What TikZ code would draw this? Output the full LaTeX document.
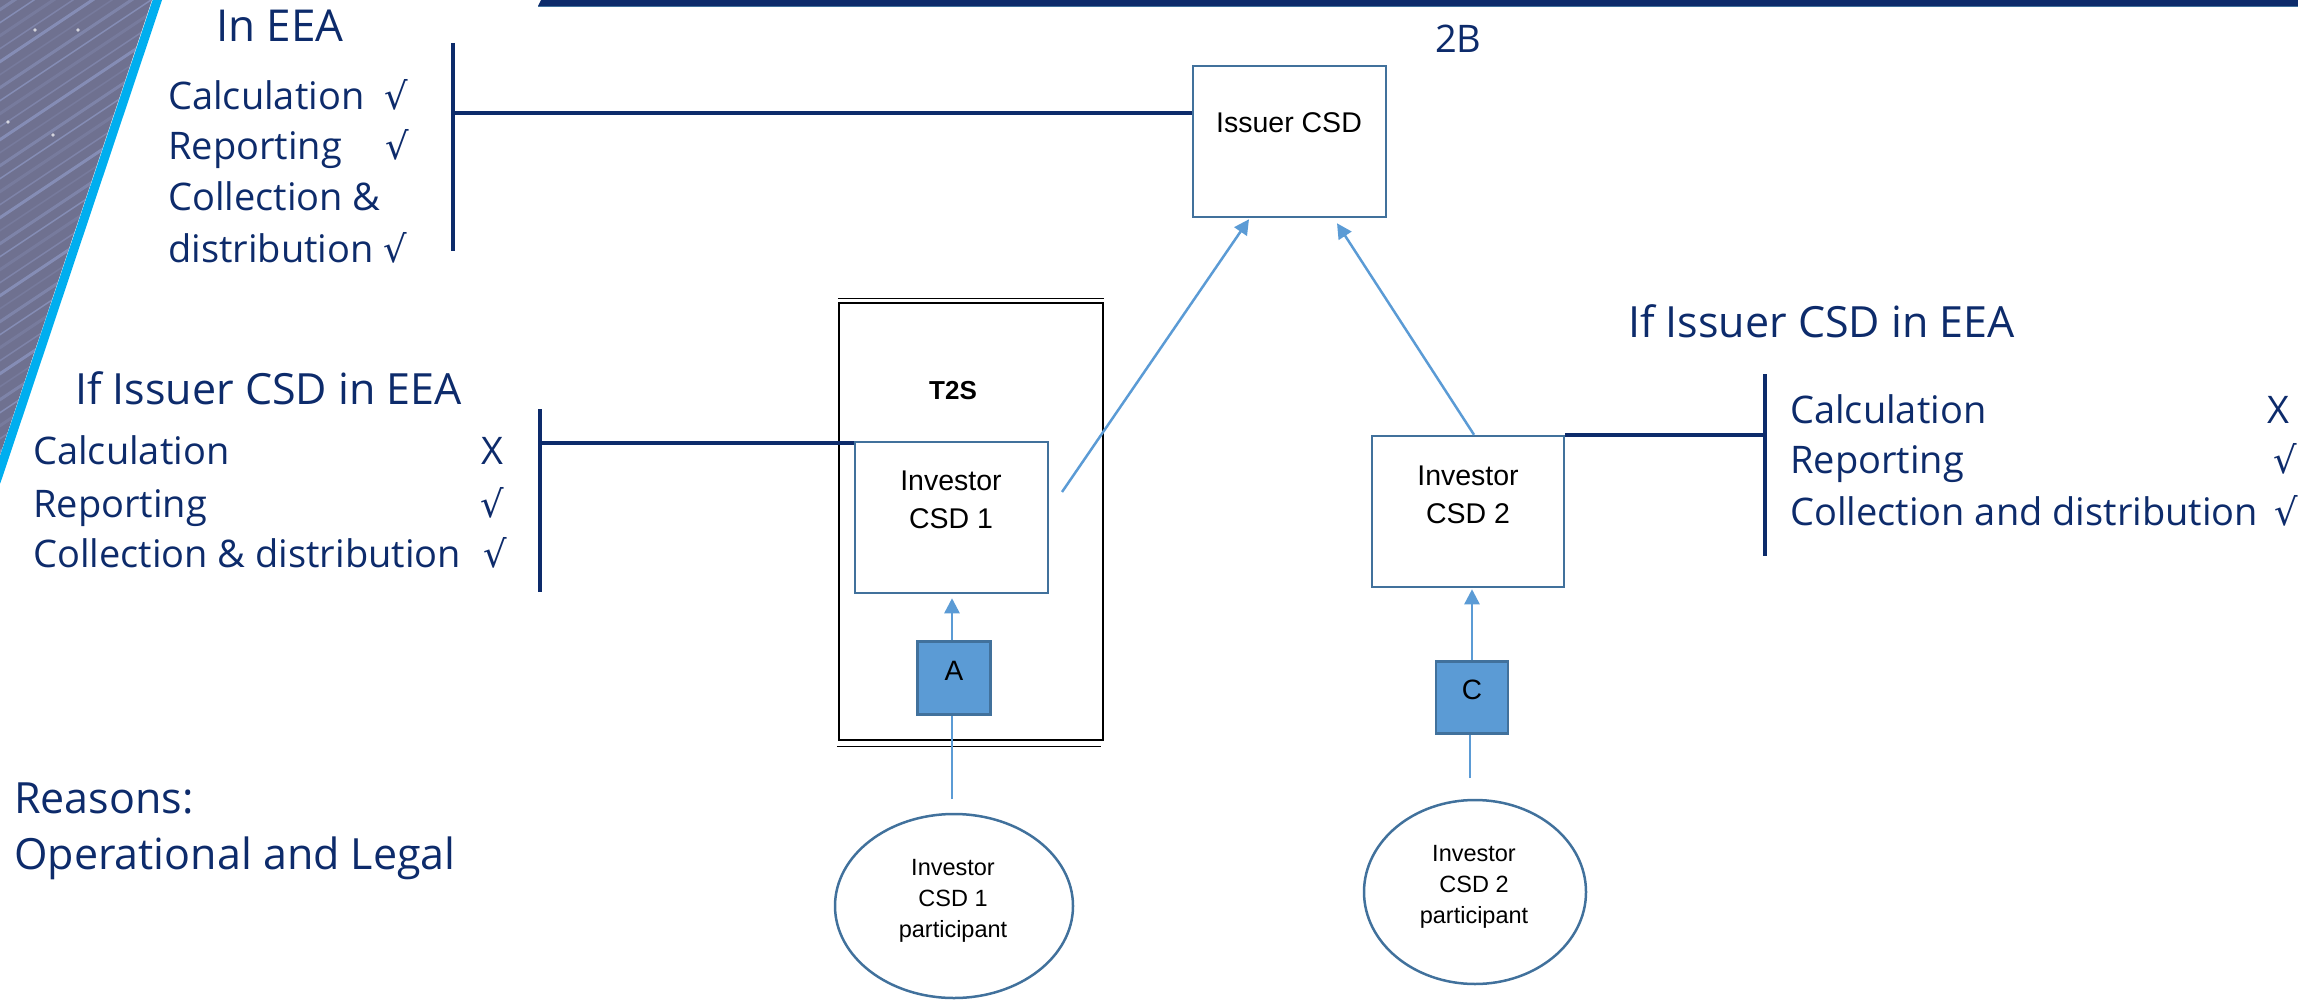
\documentclass[tikz,border=0pt]{standalone}
\usepackage{fontspec}
\setmainfont{Open Sans}
\newfontfamily\arialf{Liberation Sans}
\newfontfamily\symf{DejaVu Sans}
\usetikzlibrary{arrows.meta,shapes.geometric,calc}
\definecolor{navy}{HTML}{0D2B6B}
\definecolor{boxb}{HTML}{41719C}
\definecolor{arr}{HTML}{5B9BD5}
\definecolor{cyanst}{HTML}{00AEEF}
\definecolor{texbase}{HTML}{6F7190}
\definecolor{texlight}{HTML}{98A4D4}
\tikzset{
  navytxt/.style={text=navy, inner sep=0pt, anchor=base west},
  hdr/.style={navytxt, font=\fontsize{43}{50}\selectfont},
  itm/.style={navytxt, font=\fontsize{38}{46}\selectfont},
  chk/.style={navytxt, font=\symf\fontsize{37}{42}\selectfont},
  navyline/.style={draw=navy, line width=3.5pt},
  arrline/.style={draw=arr, line width=2.5pt},
  arrowline/.style={arrline, -{Triangle[length=15pt,width=15pt]}},
  csdbox/.style={draw=boxb, line width=2.5pt, fill=white, minimum width=193pt, minimum height=151pt, inner sep=0pt},
  sqbox/.style={draw=boxb, line width=2.5pt, fill=arr, minimum size=73pt, inner sep=0pt, font=\arialf\fontsize{28}{34}\selectfont, text height=20pt, text depth=16pt},
  boxtxt/.style={inner sep=0pt, anchor=base, align=center, font=\arialf\fontsize{28.5}{38}\selectfont},
  elltxt/.style={inner sep=0pt, anchor=base, align=center, font=\arialf\fontsize{23.5}{31}\selectfont},
  ellnode/.style={draw=boxb, line width=2.5pt, ellipse, inner sep=0pt}
}
\begin{document}
\begin{tikzpicture}[x=1pt,y=-1pt]
\useasboundingbox (0,0) rectangle (2298,1000);
% textured corner
\begin{scope}
\clip (0,0) -- (152,0) -- (0,455) -- cycle;
\fill[texbase] (0,0) rectangle (200,500);
\foreach \i in {0,...,45} {
  \pgfmathsetmacro{\op}{0.2+0.18*mod(\i,3)}
  \pgfmathsetmacro{\lw}{1.5+1.5*mod(\i,2)}
  \draw[texlight, opacity=\op, line width=\lw pt] (220, \i*13-150) -- ++(-300, 200);
}
\foreach \p in {(35,30),(78,30),(8,122),(53,135)} {
  \fill[white, opacity=0.7] \p circle (1.8pt);
}
\end{scope}
\draw[cyanst, line width=9pt] (158,-2) -- (-4,482);
% top bar
\fill[navy] (538,6) -- (541,0) -- (2298,0) -- (2298,6) -- cycle;
\draw[boxb, line width=1.2pt] (538,6.5) -- (2298,6.5);

% left top block
\node[hdr, font=\fontsize{44}{50}\selectfont] (ineea) at (216,42) {In EEA};
\node[itm] (l1a) at (168,110) {Calculation};
\node[itm] (l1b) at (168,160) {Reporting};
\node[itm] (l1c) at (168,211) {Collection \&};
\node[itm] (l1d) at (168,262) {distribution};
\node[chk] (l1ac) at (384,110) {√};
\node[chk] (l1bc) at (385,160) {√};
\node[chk] (l1dc) at (383,262) {√};

% left middle block
\node[hdr] (ifl) at (75,404) {If Issuer CSD in EEA};
\node[itm] (l2a) at (33,464) {Calculation};
\node[itm] (l2b) at (33,517) {Reporting};
\node[itm] (l2c) at (33,567) {Collection \& distribution};
\node[itm] (l2ax) at (481,464) {X};
\node[chk] (l2bc) at (480,517) {√};
\node[chk] (l2cc) at (483,567) {√};

% reasons
\node[hdr] (rea) at (14,813) {Reasons:};
\node[hdr] (rel) at (14,869) {Operational and Legal};

% right block
\node[hdr] (ifr) at (1628,337) {If Issuer CSD in EEA};
\node[itm] (r1) at (1790,423) {Calculation};
\node[itm] (r2) at (1790,473) {Reporting};
\node[itm] (r3) at (1790,525) {Collection and distribution};
\node[itm] (r1x) at (2267,423) {X};
\node[chk] (r2c) at (2273,473) {√};
\node[chk] (r3c) at (2274,525) {√};

% 2B
\node[hdr, font=\fontsize{38}{44}\selectfont] (tb) at (1435,53) {2B};

% T2S box
\node[draw=black, line width=2.5pt, minimum width=264pt, minimum height=437pt, inner sep=0pt] (t2s) at (971,521.5) {};
\draw[black, line width=1pt] ($(t2s.north west)+(0,-3)$) -- ($(t2s.north east)+(0,-3)$);
\draw[black, line width=1pt] ($(t2s.south west)+(-1,5)$) -- ($(t2s.south east)+(-3,5)$);
\node[inner sep=0pt, anchor=base, font=\arialf\bfseries\fontsize{26}{30}\selectfont] (t2st) at (953,399) {T2S};

% CSD boxes
\node[csdbox] (issuer) at (1289.5,141.5) {};
\node[boxtxt] (issuert) at (1289,133) {Issuer CSD};
\node[csdbox] (inv1) at (951.5,517.5) {};
\node[boxtxt] (inv1t) at (951,528) {Investor\\CSD 1};
\node[csdbox, minimum width=192pt] (inv2) at (1468,511.5) {};
\node[boxtxt] (inv2t) at (1468,523) {Investor\\CSD 2};

% A and C
\node[sqbox] (A) at (954,678) {A};
\node[sqbox, minimum size=72pt] (C) at (1472,697.5) {C};

% participants
\node[ellnode, minimum width=238pt, minimum height=184pt] (e1) at (954,906) {};
\node[elltxt] (e1t) at (953,937) {Investor\\CSD 1\\participant};
\node[ellnode, minimum width=222pt, minimum height=184pt] (e2) at (1475,892) {};
\node[elltxt] (e2t) at (1474,923) {Investor\\CSD 2\\participant};

% navy connectors
\coordinate (vb1t) at (453,43);
\coordinate (vb1b) at (453,251);
\coordinate (h1) at (453,113);
\draw[navyline] (vb1t) -- (vb1b);
\draw[navyline] (h1) -- (h1 -| issuer.west);
\coordinate (vb2t) at (540,409);
\coordinate (vb2b) at (540,592);
\coordinate (h2) at (540,443);
\draw[navyline] (vb2t) -- (vb2b);
\draw[navyline] (h2) -- (h2 -| inv1.west);
\coordinate (vb3t) at (1765,374);
\coordinate (vb3b) at (1765,556);
\draw[navyline] (vb3t) -- (vb3b);
\draw[navyline] (inv2.north east) -- (inv2.north east -| vb3t);

% blue arrows
\coordinate (ax) at (952,0);
\coordinate (s1) at (1062,492);
\draw[arrowline] (s1) -- ($(issuer.south)+(-40.5,1)$);
\draw[arrowline] ($(inv2.north)+(6,0)$) -- ($(issuer.south)+(47.5,5)$);
\draw[arrowline] (A.north -| ax) -- ($(inv1.south -| ax)+(0,4)$);
\draw[arrowline] (C.north) -- ($(inv2.south)+(4,1)$);
\coordinate (p1) at (952,799);
\draw[arrline] (p1) -- (p1 |- A.south);
\coordinate (p2) at (1470,778);
\draw[arrline] (p2) -- (p2 |- C.south);
\end{tikzpicture}
\end{document}
